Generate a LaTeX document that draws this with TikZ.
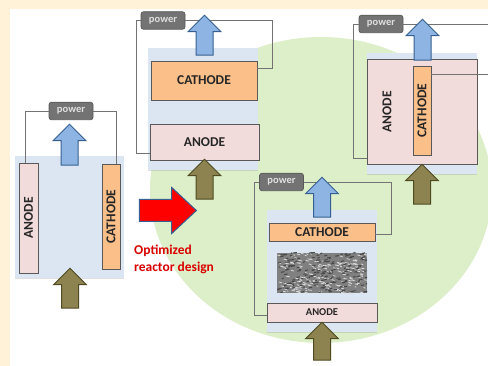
\documentclass[tikz,border=0pt]{standalone}
\usepackage{fontspec}
\setmainfont{Carlito}
\usetikzlibrary{shapes,arrows,calc,shadows}
\definecolor{creamcol}{HTML}{FFF2D9}
\definecolor{greencol}{HTML}{DDEFC9}
\definecolor{panelcol}{HTML}{DCE6F2}
\definecolor{anodecol}{HTML}{F2DCDB}
\definecolor{cathodecol}{HTML}{FBBF8A}
\definecolor{edgecol}{HTML}{595959}
\definecolor{bluecol}{HTML}{8DB4E2}
\definecolor{blueedge}{HTML}{376092}
\definecolor{olivecol}{HTML}{8C8350}
\definecolor{oliveedge}{HTML}{4F4A20}
\tikzstyle{panel} = [rectangle, fill=panelcol, inner sep=0pt, drop shadow={shadow xshift=0.4pt, shadow yshift=-1pt, opacity=0.25}]
\tikzstyle{anode} = [rectangle, draw=edgecol, fill=anodecol, line width=0.7pt, inner sep=0pt, text=black!85, font=\bfseries\fontsize{13.5}{14}\selectfont]
\tikzstyle{cathode} = [anode, fill=cathodecol]
\tikzstyle{power} = [rectangle, draw=black!65, fill=black!55, text=black!12, rounded corners=2.5pt, line width=0.7pt, inner sep=0pt, minimum width=44pt, minimum height=17.5pt, font=\bfseries\fontsize{10.5}{11}\selectfont]
\tikzstyle{wire} = [draw=black!55, line width=0.6pt]
\tikzstyle{flow} = [single arrow, shape border rotate=90, inner sep=8pt, line width=1pt, minimum width=32pt, single arrow head extend=8pt, single arrow tip angle=90, single arrow head indent=0pt]
\tikzstyle{outflow} = [flow, draw=blueedge, fill=bluecol]
\tikzstyle{inflow} = [flow, draw=oliveedge, fill=olivecol]
\begin{document}
\begin{tikzpicture}[x=1pt, y=-1pt]
    \useasboundingbox (0,0) rectangle (488,366);
    % Background
    \fill [creamcol] (0,0) rectangle (488,366);
    \fill [white] (10,9) rectangle (488,366);
    \begin{scope}
        \clip (10,9) rectangle (488,366);
        \fill [greencol] (321,190) ellipse [x radius=171, y radius=153];
    \end{scope}
    % Place panels
    \node [panel, minimum width=109pt, minimum height=122pt] (cellA) at (69.5,217) {};
    \node [panel, minimum width=110pt, minimum height=122pt] (cellB) at (203,109) {};
    \node [panel, minimum width=110pt, minimum height=121pt] (cellC) at (422,113.5) {};
    \node [panel, minimum width=110pt, minimum height=122pt] (cellD) at (322,271) {};
    % Place electrodes
    \node [anode, minimum width=19pt, minimum height=110pt] (anodeA) at (28.5,218) {\rotatebox{90}{ANODE}};
    \node [cathode, minimum width=18pt, minimum height=105pt] (cathodeA) at (111,216.5) {\rotatebox{90}{CATHODE}};
    \node [cathode, minimum width=106pt, minimum height=39pt] (cathodeB) at (204,80.5) {CATHODE};
    \node [anode, minimum width=109pt, minimum height=36pt] (anodeB) at (204.5,142) {ANODE};
    \node [anode, minimum width=110pt, minimum height=105pt] (anodeC) at (422,111.5) {};
    \node [text=black!85, font=\bfseries\fontsize{13.5}{14}\selectfont, inner sep=0pt] (anodeClabel) at (387,112) {\rotatebox{90}{ANODE}};
    \node [cathode, minimum width=18pt, minimum height=89pt] (cathodeC) at (422,110.5) {\rotatebox{90}{CATHODE}};
    \node [cathode, minimum width=106pt, minimum height=18pt] (cathodeD) at (322,232) {CATHODE};
    \node [anode, minimum width=110pt, minimum height=19pt, font=\bfseries\fontsize{10.5}{11}\selectfont] (anodeD) at (322,312.5) {ANODE};
    % Porous layer
    \node [minimum width=90pt, minimum height=40pt, inner sep=0pt, fill=black!50] (porous) at (322,273) {};
    \pgfmathsetseed{4711}
    \begin{scope}
        \clip (porous.south west) rectangle (porous.north east);
        \foreach \i in {1,...,400} {
            \pgfmathsetmacro{\px}{277+90*rnd}
            \pgfmathsetmacro{\py}{253+40*rnd}
            \pgfmathsetmacro{\pd}{1.5+2.5*rnd}
            \pgfmathsetmacro{\pc}{int(mod(\i,2))}
            \ifnum\pc=0
                \draw [black!15, line width=0.8pt] (\px,\py) -- ++(\pd,0.7);
            \else
                \draw [black!72, line width=1pt] (\px,\py) -- ++(\pd,-0.7);
            \fi
        }
    \end{scope}
    % Place power boxes
    \node [power] (powerA) at (71,111) {power};
    \node [power] (powerB) at (163,20.5) {power};
    \node [power] (powerC) at (381,24) {power};
    \node [power] (powerD) at (281.5,182) {power};
    % Draw wires
    \coordinate (exitCtop) at (488,24);
    \coordinate (exitCside) at (488,74);
    \path [wire] (powerA.west) -| ([xshift=-3.5pt]anodeA.north);
    \path [wire] (powerA.east) -| ([xshift=5pt]cathodeA.north);
    \path [wire] (powerB.west) -- ++(-4,0) |- ([yshift=-11pt]anodeB.west);
    \path [wire] (powerB.east) -- ++(87,0) |- ([yshift=12.5pt]cathodeB.east);
    \path [wire] (powerC.west) -- ++(-5,0) |- ([yshift=-46.5pt]anodeC.west);
    \path [wire] (powerC.east) -- (exitCtop);
    \path [wire] ([yshift=36.5pt]cathodeC.east) -- (exitCside);
    \path [wire] (powerD.west) -- ++(-5,0) |- ([yshift=-2.5pt]anodeD.west);
    \path [wire] (powerD.east) -- ++(87,0) |- ([yshift=-2pt]cathodeD.east);
    % Place arrows
    \node [outflow, minimum height=41pt] (outA) at (69.5,149) {};
    \node [inflow, minimum height=40pt] (inA) at (70,292.5) {};
    \node [outflow, minimum height=40pt] (outB) at (204.5,39.5) {};
    \node [inflow, minimum height=40pt] (inB) at (204.5,183.5) {};
    \node [outflow, minimum height=41pt] (outC) at (422.5,44) {};
    \node [inflow, minimum height=40pt] (inC) at (422,188.5) {};
    \node [outflow, minimum height=40pt] (outD) at (322,201.5) {};
    \node [inflow, minimum height=38pt] (inD) at (322,345.5) {};
    \node [single arrow, draw=blueedge, fill=red, line width=1pt, inner sep=10.5pt, minimum width=45pt, minimum height=57pt, single arrow head extend=12pt, single arrow tip angle=86, single arrow head indent=0pt] (redarrow) at (162,210.5) {};
    \node [text=red!85!black, align=left, inner sep=0pt, anchor=north west, font=\bfseries\fontsize{13.5}{17}\selectfont] (designlabel) at (134,244.5) {Optimized\\reactor design};
\end{tikzpicture}
\end{document}
